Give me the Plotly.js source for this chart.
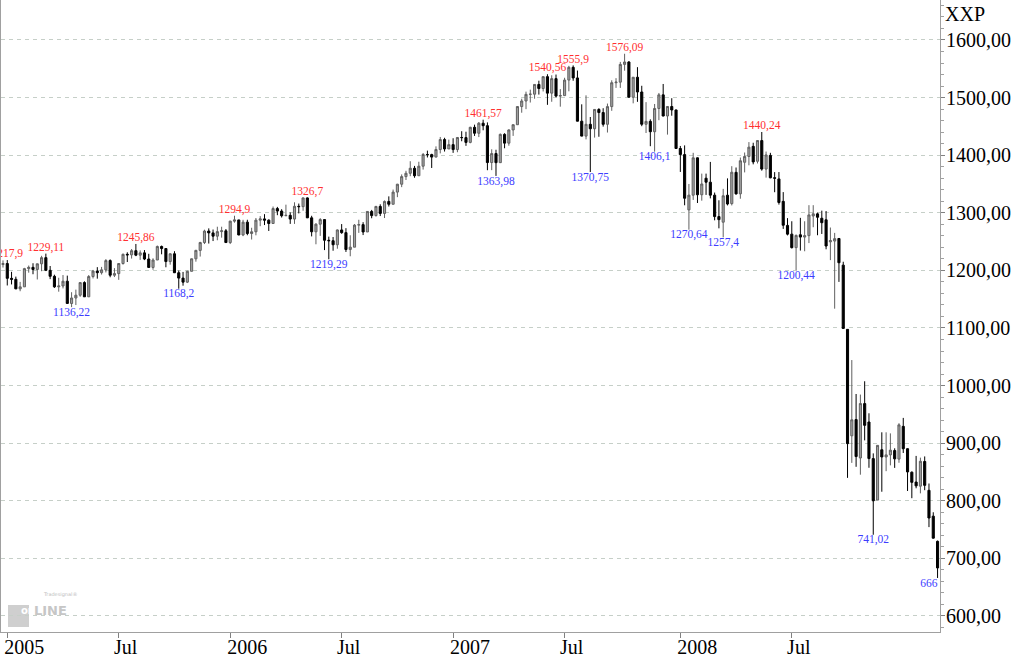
<!DOCTYPE html>
<html><head><meta charset="utf-8">
<script src="https://cdn.plot.ly/plotly-3.0.1.min.js"></script>
<style>html,body{margin:0;padding:0;background:#fff}#chart{width:1024px;height:658px}</style>
</head><body><div id="chart"></div>
<script>
// Weekly candles, first week starting 2004-12-27
const firstWeek = '2004-12-27';

const openVals = [
1210.1,1211.9,1186.2,1184.5,1167.9,1171.4,1203.0,1205.3,1201.6,1211.4,
1222.1,1200.1,1189.7,1171.4,1172.9,1181.2,1142.6,1152.1,1156.9,1178.8,
1154.1,1189.3,1198.8,1196.0,1200.9,1217.0,1191.6,1194.4,1211.9,1227.9,
1227.0,1234.2,1226.4,1230.4,1219.7,1205.1,1218.0,1241.5,1237.9,1215.3,
1228.8,1195.9,1186.6,1179.6,1198.4,1220.1,1234.7,1248.3,1268.3,1265.1,
1259.4,1267.3,1268.7,
1248.3,1285.5,1287.6,1261.5,1283.7,1264.0,1267.0,1287.2,1289.4,1287.2,
1281.4,1307.3,1303.0,1294.8,1295.5,1289.1,1311.3,1310.6,1325.8,1291.2,
1267.0,1280.2,1288.2,1252.3,1251.5,1244.5,1270.2,1265.5,1236.2,1240.3,
1278.6,1279.4,1266.7,1302.3,1295.1,1311.0,1298.9,1319.7,1314.8,1335.9,
1349.6,1362.8,1368.6,1377.3,1364.3,1380.9,1401.2,1401.0,1396.7,1409.8,
1427.1,1410.8,
1418.3,1409.7,1430.7,1430.5,1422.2,1448.4,1438.1,1455.5,1451.2,1387.2,
1402.8,1387.0,1436.1,1420.9,1443.8,1452.9,1484.4,1494.1,1505.6,1505.9,
1522.8,1515.7,1536.3,1507.7,1532.9,1502.6,1503.4,1530.4,1552.5,1534.1,
1459.0,1433.1,1453.6,1445.9,1479.4,1474.0,1453.6,1484.3,1525.8,1526.8,
1557.6,1561.8,1500.6,1535.3,1509.7,1453.7,1458.7,1440.7,1481.1,1504.7,
1468.0,1484.5,1478.5,
1411.6,1401.0,1305.0,1330.6,1395.4,1331.3,1360.0,1353.1,1330.6,1293.4,
1283.7,1330.5,1315.9,1370.2,1332.9,1387.7,1397.8,1415.3,1389.4,1425.3,
1375.9,1399.6,1360.8,1358.8,1319.8,1278.1,1262.9,1239.5,1261.8,1257.8,
1260.3,1294.4,1298.1,1290.5,1287.8,1249.5,1250.9,1255.4,1209.1,1097.6,
912.8,941.0,874.3,968.7,936.8,873.2,801.2,888.6,876.1,879.7,
887.2,872.4,929.2,890.4,849.6,832.5,825.4,868.2,818.2,773.3,
729.6
];

const highVals = [
1217.3,1217.9,1197.5,1189.2,1180.0,1204.4,1208.4,1212.4,1211.5,1225.3,
1229.11,1207.6,1192.5,1187.2,1191.9,1190.9,1162.1,1166.6,1178.9,1181.0,
1191.9,1200.8,1205.6,1206.0,1219.6,1219.1,1203.9,1212.3,1229.2,1231.4,
1237.1,1245.86,1234.7,1235.3,1228.8,1221.0,1243.1,1243.1,1237.9,1229.6,
1233.3,1199.7,1197.3,1199.4,1220.5,1235.7,1249.6,1270.6,1272.9,1270.9,
1275.8,1275.8,1271.8,
1286.1,1294.9,1287.6,1287.8,1287.9,1274.0,1290.9,1294.2,1297.6,1288.5,
1310.9,1310.2,1306.2,1314.1,1300.7,1318.2,1316.0,1326.5,1326.7,1294.8,
1281.9,1290.7,1288.2,1258.6,1257.9,1271.0,1280.4,1273.3,1261.0,1280.4,
1287.9,1283.7,1302.6,1305.0,1312.0,1314.7,1321.4,1328.5,1340.3,1350.2,
1366.6,1372.9,1389.5,1381.4,1388.6,1403.8,1407.9,1402.5,1415.3,1431.6,
1430.2,1427.0,
1429.4,1431.6,1441.6,1440.7,1449.3,1453.0,1457.6,1461.57,1456.9,1410.2,
1409.4,1437.7,1438.1,1444.9,1453.1,1484.7,1498.0,1510.3,1513.8,1523.0,
1529.3,1536.6,1540.56,1538.7,1540.0,1514.7,1534.4,1555.1,1555.9,1546.9,
1488.3,1503.9,1466.3,1479.6,1481.5,1481.5,1489.6,1530.0,1533.7,1561.9,
1576.09,1563.2,1535.6,1552.8,1520.5,1492.1,1462.2,1488.9,1508.0,1523.6,
1485.4,1498.9,1479.0,
1416.0,1417.0,1350.0,1404.1,1396.0,1368.0,1368.0,1388.3,1335.1,1321.7,
1341.5,1359.7,1380.9,1378.6,1395.9,1404.6,1422.7,1421.6,1426.2,1440.24,
1406.3,1404.1,1370.6,1370.7,1335.9,1290.7,1285.3,1262.3,1291.2,1285.3,
1313.2,1313.2,1300.2,1303.7,1303.0,1274.4,1265.1,1256.0,1215.0,1098.0,
1044.3,985.4,984.4,1007.5,951.9,882.3,896.3,918.9,918.9,917.0,
891.1,934.7,943.9,891.0,851.0,877.9,874.9,877.0,830.0,780.1,
731.0
];

const lowVals = [
1204.9,1173.8,1175.6,1167.5,1163.8,1171.4,1196.0,1193.3,1184.2,1198.6,
1198.8,1184.8,1169.6,1163.0,1168.7,1142.0,1136.22,1139.8,1154.1,1154.0,
1154.1,1186.0,1185.6,1192.8,1196.4,1188.0,1188.4,1183.6,1210.0,1214.5,
1220.5,1224.7,1218.2,1217.8,1205.0,1201.1,1218.0,1227.9,1205.4,1209.9,
1195.4,1168.2,1173.4,1178.0,1198.4,1215.1,1224.0,1245.7,1246.6,1250.9,
1252.3,1256.8,1248.2,
1245.7,1282.8,1261.0,1259.4,1261.0,1253.6,1260.9,1276.7,1278.7,1268.4,
1281.4,1295.8,1291.8,1294.8,1280.7,1280.7,1298.9,1303.5,1290.9,1259.0,
1245.3,1259.9,1235.2,1219.29,1234.1,1237.6,1263.5,1232.0,1224.5,1240.3,
1265.1,1261.3,1266.7,1290.5,1293.5,1294.3,1290.9,1310.9,1314.8,1327.1,
1344.5,1356.9,1363.5,1360.8,1364.3,1375.0,1396.0,1377.8,1396.7,1403.1,
1406.3,1410.8,
1404.0,1405.1,1424.2,1416.2,1420.6,1433.4,1431.4,1443.2,1373.9,1374.0,
1363.98,1386.7,1412.0,1416.4,1433.5,1452.9,1473.7,1479.9,1491.4,1498.0,
1505.2,1510.6,1487.4,1492.7,1500.5,1484.2,1503.4,1510.9,1529.2,1458.7,
1432.8,1427.4,1370.75,1430.5,1432.0,1449.6,1439.3,1477.0,1516.8,1516.8,
1546.7,1500.3,1490.0,1492.6,1450.3,1438.5,1415.6,1406.1,1460.7,1467.4,
1435.7,1468.5,1411.2,
1370.9,1313.0,1270.64,1322.3,1317.0,1321.0,1331.0,1325.0,1286.9,1273.0,
1257.4,1312.8,1312.8,1331.6,1324.4,1370.1,1382.4,1384.1,1385.6,1373.1,
1361.0,1359.9,1335.7,1314.2,1272.0,1260.7,1238.0,1200.44,1234.4,1233.2,
1247.4,1274.9,1261.0,1263.2,1236.6,1217.8,1133.5,1180.0,1098.2,839.8,
865.8,859.0,845.3,904.9,857.3,741.02,801.2,815.7,851.4,861.5,
857.1,866.0,883.0,817.0,804.5,821.7,812.9,818.4,754.3,734.5,
666
];

const closeVals = [
1211.9,1186.2,1184.5,1167.9,1171.4,1203.0,1205.3,1201.6,1211.4,1222.1,
1200.1,1189.7,1171.4,1172.9,1181.2,1142.6,1152.1,1156.9,1178.8,1154.1,
1189.3,1198.8,1196.0,1200.9,1217.0,1191.6,1194.4,1211.9,1227.9,1227.0,
1234.2,1226.4,1230.4,1219.7,1205.1,1218.0,1241.5,1237.9,1215.3,1228.8,
1195.9,1186.6,1179.6,1198.4,1220.1,1234.7,1248.3,1268.3,1265.1,1259.4,
1267.3,1268.7,1248.3,
1285.5,1287.6,1261.5,1283.7,1264.0,1267.0,1287.2,1289.4,1287.2,1281.4,
1307.3,1303.0,1294.8,1295.5,1289.1,1311.3,1310.6,1325.8,1291.2,1267.0,
1280.2,1288.2,1252.3,1251.5,1244.5,1270.2,1265.5,1236.2,1240.3,1278.6,
1279.4,1266.7,1302.3,1295.1,1311.0,1298.9,1319.7,1314.8,1335.9,1349.6,
1362.8,1368.6,1377.3,1364.3,1380.9,1401.2,1401.0,1396.7,1409.8,1427.1,
1410.8,1418.3,
1409.7,1430.7,1430.5,1422.2,1448.4,1438.1,1455.5,1451.2,1387.2,1402.8,
1387.0,1436.1,1420.9,1443.8,1452.9,1484.4,1494.1,1505.6,1505.9,1522.8,
1515.7,1536.3,1507.7,1532.9,1502.6,1503.4,1530.4,1552.5,1534.1,1459.0,
1433.1,1453.6,1445.9,1479.4,1474.0,1453.6,1484.3,1525.8,1526.8,1557.6,
1561.8,1500.6,1535.3,1509.7,1453.7,1458.7,1440.7,1481.1,1504.7,1468.0,
1484.5,1478.5,1411.6,
1401.0,1325.2,1330.6,1395.4,1331.3,1350.0,1353.1,1330.6,1293.4,1288.1,
1329.5,1315.2,1370.4,1332.8,1390.3,1397.8,1413.9,1388.3,1425.4,1375.9,
1400.4,1360.7,1360.0,1317.9,1278.4,1262.9,1239.5,1260.7,1257.8,1260.3,
1296.3,1298.2,1292.2,1282.8,1242.3,1251.7,1255.1,1213.3,1099.2,899.2,
940.6,876.8,968.8,931.0,873.3,800.0,896.2,876.1,879.7,887.9,
872.8,931.8,890.4,850.1,832.0,825.9,868.6,826.8,770.1,735.1,
683.4
];

// axis ticks
const tickDates = ['2005-01-03','2005-07-04','2006-01-02','2006-07-03','2007-01-01','2007-07-02','2008-01-07','2008-07-07'];
const tickLabels = ['2005','Jul','2006','Jul','2007','Jul','2008','Jul'];

// swing labels
const peakDates = ['2005-01-03','2005-03-07','2005-08-01','2006-01-09','2006-05-08','2007-02-19','2007-06-04','2007-07-16','2007-10-08','2008-05-19'];
const peakValues = [1217.9,1229.11,1245.86,1294.9,1326.7,1461.57,1540.56,1555.9,1576.09,1440.24];
const troughDates = ['2005-04-18','2005-10-10','2006-06-12','2007-03-12','2007-08-13','2007-11-26','2008-01-21','2008-03-17','2008-07-14','2008-11-17','2009-03-02'];
const troughValues = [1136.22,1168.2,1219.29,1363.98,1370.75,1406.1,1270.64,1257.4,1200.44,741.02,666];

function weekDates(start, n) {
  const out = [];
  const d0 = new Date(start + 'T00:00:00Z').getTime();
  for (let i = 0; i < n; i++) out.push(new Date(d0 + i * 7 * 86400000).toISOString().slice(0, 10));
  return out;
}
const fmt = v => String(v).replace('.', ',');
const dates = weekDates(firstWeek, closeVals.length);
const serif = 'Liberation Serif, Times New Roman, serif';
const troughPos = troughValues.map((v, i) => i === troughValues.length - 1 ? 'bottom left' : 'bottom center');

const traces = [
  {
    type: 'candlestick', x: dates, open: openVals, high: highVals, low: lowVals, close: closeVals,
    increasing: {line: {color: '#606060', width: 1}, fillcolor: '#a0a0a0'},
    decreasing: {line: {color: '#000000', width: 1}, fillcolor: '#000000'},
    whiskerwidth: 0, hoverinfo: 'skip', showlegend: false
  },
  {
    type: 'scatter', mode: 'text', x: peakDates, y: peakValues, text: peakValues.map(fmt),
    textposition: 'top center', textfont: {family: serif, size: 11.5, color: '#ff3030'},
    hoverinfo: 'skip', showlegend: false, cliponaxis: true
  },
  {
    type: 'scatter', mode: 'text', x: troughDates, y: troughValues, text: troughValues.map(fmt),
    textposition: troughPos, textfont: {family: serif, size: 11.5, color: '#3c3cff'},
    hoverinfo: 'skip', showlegend: false, cliponaxis: false
  }
];

const pad = '\u2002\u2002';
const layout = {
  width: 1024, height: 658,
  margin: {l: 1, r: 84, t: 0, b: 26},
  paper_bgcolor: '#ffffff', plot_bgcolor: '#ffffff',
  showlegend: false,
  separators: ',.',
  font: {family: serif, size: 20, color: '#000000'},
  title: {text: 'XXP', x: 945 / 1024, xanchor: 'left', y: 1 - 14 / 658, yanchor: 'middle',
          font: {family: serif, size: 20, color: '#000000'}},
  xaxis: {
    type: 'date', range: ['2004-12-23 18:00', '2009-03-06'],
    rangeslider: {visible: false}, showgrid: false, zeroline: false,
    showline: true, linecolor: '#a0a0a0', linewidth: 1,
    ticks: 'outside', ticklen: 5, tickcolor: '#808080',
    tickvals: tickDates, ticktext: tickLabels.map(t => t.length < 4 ? t + pad : t),
    ticklabelshift: 17, ticklabelstandoff: -8,
    tickfont: {family: serif, size: 20, color: '#000000'}, fixedrange: true
  },
  yaxis: {
    side: 'right', range: [572.2, 1669.4], tick0: 0, dtick: 100, tickformat: '.2f',
    showgrid: true, gridcolor: '#c6cfc8', gridwidth: 1, griddash: '4px,4px',
    zeroline: false, showline: true, mirror: true, linecolor: '#a0a0a0', linewidth: 1,
    ticks: 'outside', ticklen: 4, tickcolor: '#808080', ticklabelstandoff: -3,
    minor: {dtick: 20, ticks: 'outside', ticklen: 3, tickcolor: '#a0a0a0', showgrid: false},
    tickfont: {family: serif, size: 20, color: '#000000'}, fixedrange: true
  },
  shapes: [
    {type: 'rect', xref: 'paper', yref: 'paper', x0: 7/939, x1: 28/939, y0: (632-627)/632, y1: (632-605)/632,
     fillcolor: '#cfcfcf', line: {width: 0}, layer: 'below'}
  ],
  annotations: [
    {xref: 'paper', yref: 'paper', x: 17.5/939, y: (632-618)/632, text: '<b>on</b>', showarrow: false,
     font: {family: 'DejaVu Sans', size: 10, color: '#ffffff'}},
    {xref: 'paper', yref: 'paper', x: 31/939, y: (632-620)/632, xanchor: 'left', text: '<b>LINE</b>', showarrow: false,
     font: {family: 'DejaVu Sans', size: 13, color: '#c6c6c6'}},
    {xref: 'paper', yref: 'paper', x: 40/939, y: (632-600)/632, xanchor: 'left', text: 'Tradesignal®', showarrow: false,
     font: {family: 'DejaVu Sans', size: 5, color: '#c0c0c0'}}
  ]
};

Plotly.newPlot('chart', traces, layout, {displayModeBar: false, staticPlot: true});
</script>
</body></html>
